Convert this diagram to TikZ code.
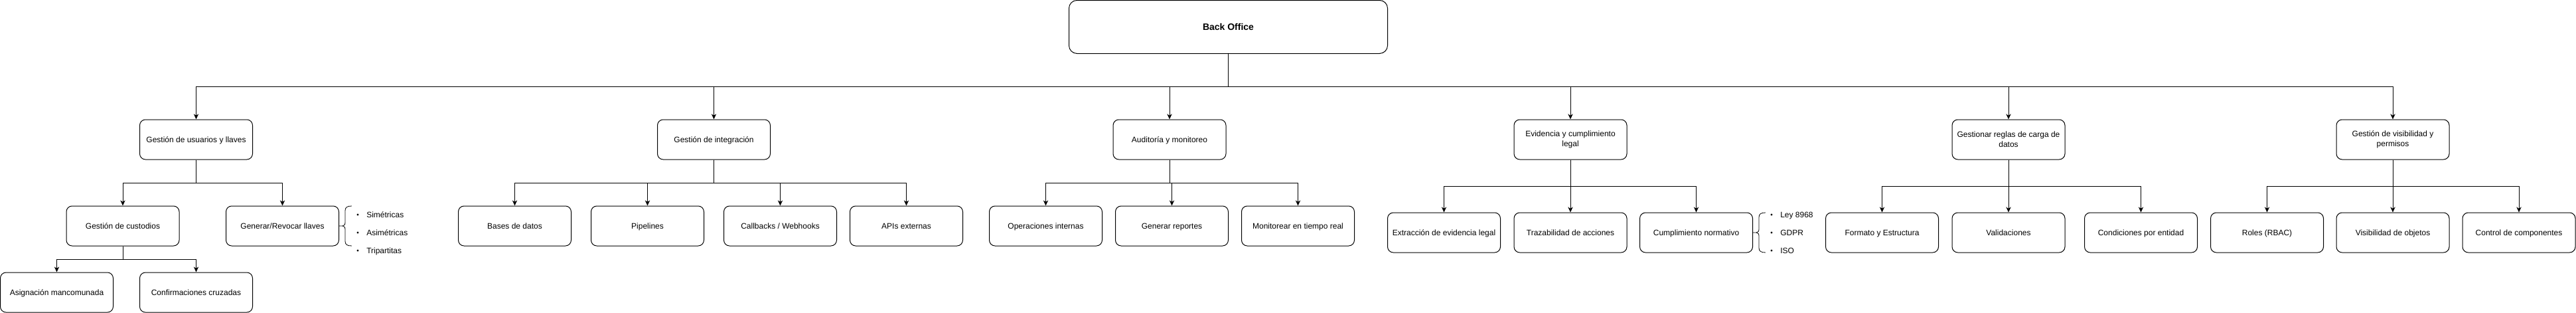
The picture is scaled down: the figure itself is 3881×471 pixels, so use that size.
\documentclass[tikz,border=0pt]{standalone}
\usepackage{fontspec}
\setmainfont{Liberation Sans}
\usetikzlibrary{arrows.meta}
\begin{document}
\begin{tikzpicture}[x=0.75pt,y=-0.75pt,
  box/.style={draw, line width=0.75pt, rounded corners=6.5pt, fill=white,
    minimum width=127.5pt, minimum height=45pt, inner sep=0pt, align=center,
    font=\fontsize{9pt}{11.25pt}\selectfont},
  boxone/.style={box, text height=6.44pt, text depth=0pt},
  arrowline/.style={draw, line width=0.75pt, -{Stealth[length=6pt,width=5.5pt,inset=1.8pt]}},
  plainline/.style={draw, line width=0.75pt},
  bracestyle/.style={draw, line width=0.6pt},
  listitem/.style={anchor=base west, inner sep=0pt, font=\fontsize{9pt}{11.25pt}\selectfont},
  bulletdot/.style={fill=black}
]
\useasboundingbox (0,0) rectangle (3881,471);
\fill[white] (0,0) rectangle (3881,471);

% root
\node[box, minimum width=360pt, minimum height=60pt, rounded corners=9pt,
  font=\bfseries\fontsize{10.5pt}{13pt}\selectfont, text height=7.5pt, text depth=0pt]
  (bo) at (1850.5,40.5) {Back Office};

% level 1
\node[boxone] (usr) at (295.5,210) {Gestión de usuarios y llaves};
\node[boxone] (int) at (1075.5,210) {Gestión de integración};
\node[boxone] (aud) at (1762,210) {Auditoría y monitoreo};
\node[box] (evi) at (2366,210) {Evidencia y cumplimiento\\legal};
\node[box] (reg) at (3026,210) {Gestionar reglas de carga de\\datos};
\node[box] (vis) at (3605,210) {Gestión de visibilidad y\\permisos};

% level 2
\node[boxone] (cus) at (185,340) {Gestión de custodios};
\node[boxone] (gen) at (425.5,340) {Generar/Revocar llaves};
\node[boxone] (bd)  at (775.5,340) {Bases de datos};
\node[boxone] (pip) at (975.5,340) {Pipelines};
\node[boxone] (cal) at (1175.5,340) {Callbacks / Webhooks};
\node[boxone] (api) at (1365.5,340) {APIs externas};
\node[boxone] (ope) at (1575.5,340) {Operaciones internas};
\node[boxone] (rep) at (1765.5,340) {Generar reportes};
\node[boxone] (mon) at (1955.5,340) {Monitorear en tiempo real};

\node[boxone] (ext) at (2175.5,350) {Extracción de evidencia legal};
\node[boxone] (tra) at (2366,350) {Trazabilidad de acciones};
\node[boxone] (cum) at (2555.5,350) {Cumplimiento normativo};
\node[boxone] (fmt) at (2835.5,350) {Formato y Estructura};
\node[boxone] (val) at (3026,350) {Validaciones};
\node[boxone] (con) at (3225.5,350) {Condiciones por entidad};
\node[boxone] (rol) at (3415.5,350) {Roles (RBAC)};
\node[boxone] (vob) at (3605,350) {Visibilidad de objetos};
\node[boxone] (ctl) at (3795,350) {Control de componentes};

% level 3
\node[boxone] (asi) at (85.5,440) {Asignación mancomunada};
\node[boxone] (cnf) at (295.5,440) {Confirmaciones cruzadas};

% connectors
\coordinate (bus) at (1850.5,130);
\draw[plainline] (bo.south) -- (bus);
\foreach \n in {usr,int,aud,evi,reg,vis} \draw[arrowline] (bus) -| (\n.north);

\foreach \n in {cus,gen} \draw[arrowline] (usr.south) -- ++(0,35) -| (\n.north);
\foreach \n in {asi,cnf} \draw[arrowline] (cus.south) -- ++(0,20) -| (\n.north);
\foreach \n in {bd,pip,cal,api} \draw[arrowline] (int.south) -- ++(0,35) -| (\n.north);
\foreach \n in {ope,rep,mon} \draw[arrowline] (aud.south) -- ++(0,35) -| (\n.north);
\foreach \n in {ext,tra,cum} \draw[arrowline] (evi.south) -- ++(0,40) -| (\n.north);
\foreach \n in {fmt,val,con} \draw[arrowline] (reg.south) -- ++(0,40) -| (\n.north);
\foreach \n in {rol,vob,ctl} \draw[arrowline] (vis.south) -- ++(0,40) -| (\n.north);

% braces
\begin{scope}[shift={(gen.east)}]
\draw[bracestyle] (0,0) -- (5,0)
  (19,-30) .. controls (12,-30) and (9,-28) .. (9,-23) -- (9,-6)
  .. controls (9,-2) and (8,0) .. (5,0)
  .. controls (8,0) and (9,2) .. (9,6) -- (9,23)
  .. controls (9,28) and (12,30) .. (19,30);
\end{scope}
\begin{scope}[shift={(cum.east)}]
\draw[bracestyle] (0,0) -- (5,0)
  (19,-30) .. controls (12,-30) and (9,-28) .. (9,-23) -- (9,-6)
  .. controls (9,-2) and (8,0) .. (5,0)
  .. controls (8,0) and (9,2) .. (9,6) -- (9,23)
  .. controls (9,28) and (12,30) .. (19,30);
\end{scope}

% bullet lists
\foreach \yy in {323,350,377} {
  \fill[bulletdot] (539,\yy) circle (1.2pt);
  \fill[bulletdot] (2669,\yy) circle (1.2pt);
}
\node[listitem] (l1) at (552,327.3) {Simétricas};
\node[listitem] (l2) at (552,354.3) {Asimétricas};
\node[listitem] (l3) at (552,381.3) {Tripartitas};
\node[listitem] (m1) at (2682,327.3) {Ley 8968};
\node[listitem] (m2) at (2682,354.3) {GDPR};
\node[listitem] (m3) at (2682,381.3) {ISO};
\end{tikzpicture}
\end{document}
